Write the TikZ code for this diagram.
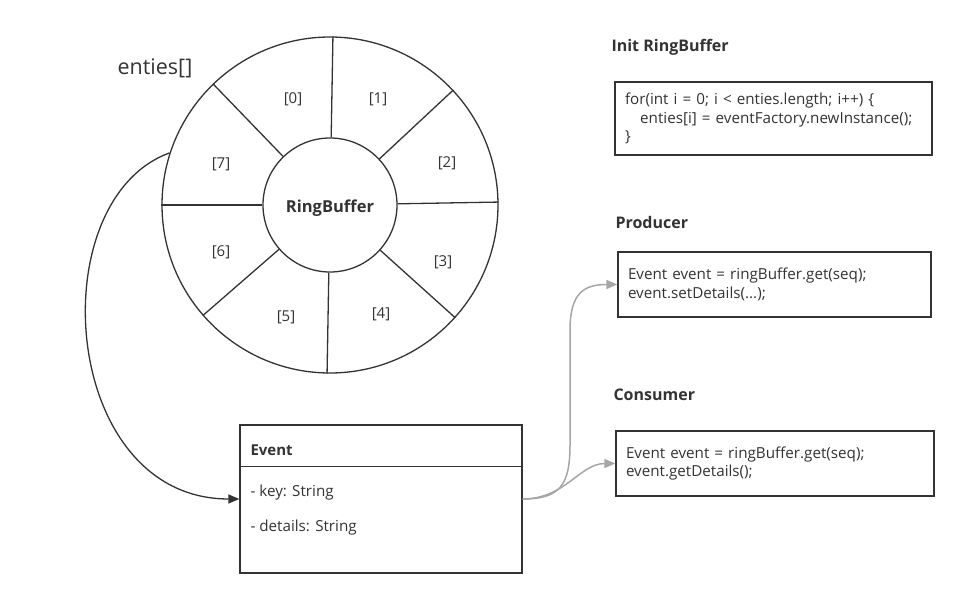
\documentclass[tikz,border=0pt]{standalone}
\usepackage{fontspec}
\setmainfont{Open Sans}
\usetikzlibrary{arrows.meta}
\definecolor{ink}{HTML}{333333}
\definecolor{gline}{HTML}{A6A6A6}
\begin{document}
\begin{tikzpicture}[x=1pt,y=-1pt,
  every node/.style={text=ink},
  shape line/.style={draw=ink,line width=1.3pt},
  slot/.style={font=\fontsize{15}{17}\selectfont},
  title/.style={anchor=west,font=\fontsize{16}{18}\selectfont\bfseries},
  codebox/.style={shape line,rectangle,align=left,inner xsep=10pt,inner ysep=0pt,font=\fontsize{15.2}{18.5}\selectfont},
  member/.style={anchor=west,font=\fontsize{15.2}{17}\selectfont},
  blackarrow/.style={draw=ink,line width=1.3pt,-{Triangle[length=11pt,width=9pt]}},
  grayarrow/.style={draw=gline,line width=1.5pt,-{Triangle[length=11pt,width=9pt]}}]
\useasboundingbox (0,0) rectangle (959,599);
% ring
\node[shape line,circle,minimum size=336pt,inner sep=0pt] (outer) at (330,205) {};
\node[shape line,circle,minimum size=134pt,inner sep=0pt] (inner) at (330,205) {};
\node[font=\fontsize{16.5}{18}\selectfont\bfseries] (rbtext) at (330,208) {RingBuffer};
\foreach \a in {89,43,1,-42,-91,-139,180,134}
  \draw[draw=ink,line width=1.3pt] (inner.\a) -- (outer.\a);
\node[slot] (s0) at (293,99) {[0]};
\node[slot] (s1) at (378,99) {[1]};
\node[slot] (s2) at (447,163) {[2]};
\node[slot] (s3) at (443,262) {[3]};
\node[slot] (s4) at (381,314) {[4]};
\node[slot] (s5) at (286,317) {[5]};
\node[slot] (s6) at (221,252) {[6]};
\node[slot] (s7) at (221,164) {[7]};
\node[font=\fontsize{21.5}{24}\selectfont] (enties) at (155,68) {enties[]};
% Event class
\node[shape line,rectangle,minimum width=282pt,minimum height=148pt,inner sep=0pt] (event) at (381,499) {};
\draw[draw=ink,line width=1.3pt] ([yshift=-42pt]event.north west) -- ([yshift=-42pt]event.north east);
\node[title,font=\fontsize{15}{17}\selectfont\bfseries] (evtitle) at (247,450) {Event};
\node[member] (key) at (247,493) {- key: String};
\node[member] (details) at (247,528) {- details: String};
% right side
\node[title] (tinit) at (608,47) {Init RingBuffer};
\node[codebox,minimum width=317pt,minimum height=73pt,text width=297pt] (init) at (773.5,118.5)
  {for(int i = 0; i < enties.length; i++) \{\\\hspace*{1em}enties[i] = eventFactory.newInstance();\\\}};
\node[title] (tprod) at (612,222) {Producer};
\node[codebox,minimum width=313pt,minimum height=65pt,text width=293pt] (prod) at (774.5,284.5)
  {Event event = ringBuffer.get(seq);\\event.setDetails(...);};
\node[title] (tcons) at (610,395) {Consumer};
\node[codebox,minimum width=318pt,minimum height=65pt,text width=298pt] (cons) at (775,463.5)
  {Event event = ringBuffer.get(seq);\\event.getDetails();};
% connectors
\draw[blackarrow] (outer.162) .. controls (40,200) and (60,499) .. (event.west);
\draw[grayarrow] (event.east) .. controls (560,499) and (570,485) .. (570,445) -- (570,330) .. controls (570,292) and (585,284.5) .. (prod.west);
\draw[grayarrow] (event.east) .. controls (565,499) and (580,463.5) .. (cons.west);
\end{tikzpicture}
\end{document}
